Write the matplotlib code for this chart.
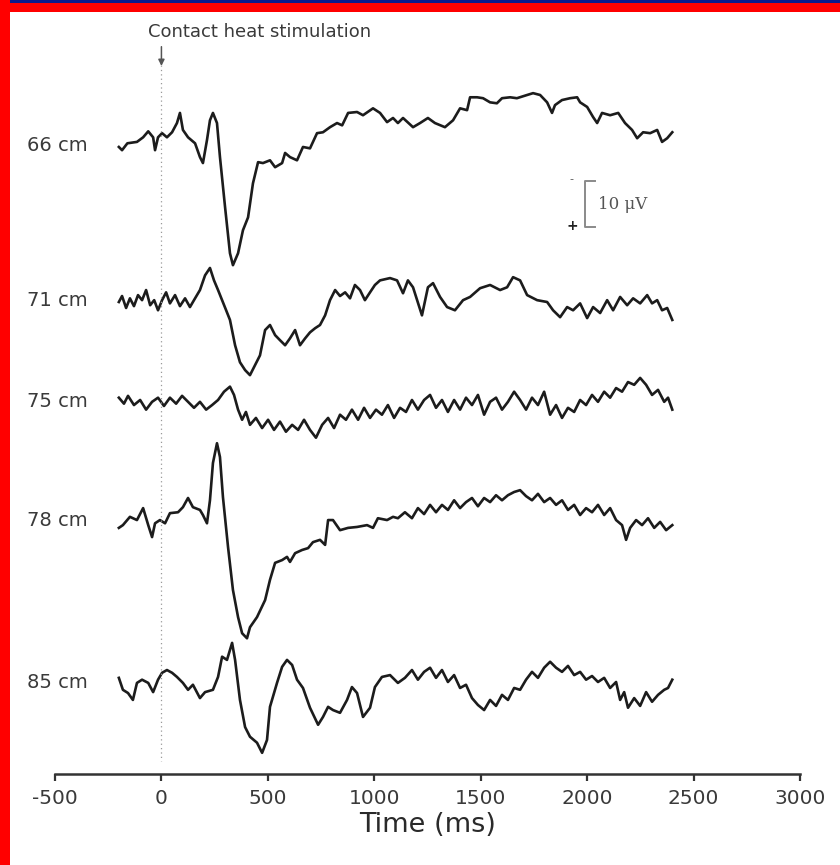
import matplotlib
matplotlib.use("Agg")
import matplotlib.pyplot as plt
from matplotlib.patches import Rectangle

plt.rcParams["axes.unicode_minus"] = False

# Evoked potentials after contact heat stimulation, one trace per recording distance.
# Times in ms, amplitudes in microvolts (negative up, as in the original figure).
LABELS = ["66 cm", "71 cm", "75 cm", "78 cm", "85 cm"]

T66 = [-200, -185, -160, -115, -86, -62, -39, -30, -16, 3, 26, 50, 73, 87, 101, 125, 158, 181, 195,
       214, 228, 242, 261, 275, 299, 322, 336, 360, 383, 407, 430, 454, 477, 510, 534, 567, 581, 604,
       637, 665, 698, 731, 759, 792, 825, 849, 877, 919, 947, 994, 1027, 1060, 1088, 1111, 1135, 1182,
       1215, 1252, 1285, 1332, 1370, 1403, 1436, 1450, 1483, 1511, 1544, 1576, 1600, 1638, 1670, 1718,
       1746, 1779, 1812, 1835, 1849, 1882, 1920, 1953, 1967, 2000, 2028, 2047, 2070, 2108, 2146, 2178,
       2211, 2235, 2263, 2296, 2329, 2352, 2376, 2400]
V66 = [0.4, 1.1, -0.4, -0.7, -1.7, -3.0, -1.7, 1.1, -1.7, -2.6, -1.7, -2.8, -4.8, -7.0, -3.3, -1.7,
       -0.4, 2.6, 3.9, -1.1, -5.4, -7.0, -4.8, 2.6, 13.5, 23.5, 26.1, 23.5, 18.5, 15.7, 8.3, 3.7, 3.9,
       3.3, 4.8, 3.9, 1.7, 2.6, 3.3, 0.4, 0.7, -2.6, -2.8, -3.9, -4.8, -4.3, -7.0, -7.2, -6.5, -8.0,
       -7.0, -5.0, -5.9, -4.8, -5.9, -3.9, -4.8, -5.9, -4.8, -3.9, -5.4, -8.0, -7.6, -10.4, -10.4,
       -10.2, -9.3, -9.1, -10.2, -10.4, -10.2, -10.9, -11.3, -10.9, -9.3, -7.0, -8.7, -9.8, -10.2,
       -10.4, -9.3, -8.3, -6.1, -4.8, -7.0, -6.5, -7.0, -4.8, -3.3, -1.5, -2.8, -2.6, -3.3, -0.7,
       -1.5, -2.8]

T71 = [-200, -185, -166, -148, -129, -110, -91, -72, -53, -34, -16, 3, 22, 40, 64, 87, 111, 134, 158,
       181, 205, 228, 247, 266, 285, 304, 322, 346, 369, 393, 416, 440, 463, 487, 510, 534, 557, 581,
       604, 628, 651, 675, 698, 722, 745, 769, 792, 816, 839, 863, 886, 909, 933, 956, 980, 1003, 1027,
       1074, 1107, 1135, 1158, 1182, 1224, 1252, 1276, 1309, 1342, 1379, 1417, 1450, 1497, 1544, 1591,
       1624, 1652, 1685, 1718, 1765, 1812, 1840, 1873, 1906, 1934, 1967, 2000, 2028, 2061, 2094, 2122,
       2155, 2188, 2216, 2249, 2282, 2305, 2329, 2352, 2376, 2400]
V71 = [0.4, -0.9, 1.7, -0.4, 1.3, -1.1, 0.0, -2.2, 1.1, 0.0, 2.2, 0.0, -1.7, 0.7, -1.1, 1.3, -0.4,
       1.5, -0.4, -2.2, -5.4, -7.0, -4.3, -2.2, 0.0, 2.2, 4.3, 9.8, 13.5, 15.2, 16.3, 14.1, 12.0, 6.5,
       5.4, 7.6, 8.7, 9.8, 8.3, 6.5, 9.8, 8.3, 7.0, 6.1, 5.4, 3.3, 0.0, -2.2, -0.9, -1.7, -0.4, -3.3,
       -2.2, 0.0, -1.7, -3.3, -4.3, -4.8, -4.3, -1.5, -4.3, -2.8, 3.3, -2.8, -3.7, -0.7, 1.5, 2.2, 0.0,
       -0.7, -2.6, -3.3, -2.2, -2.8, -5.0, -4.3, -1.1, 0.0, 0.4, 2.2, 3.7, 1.5, 2.2, 0.7, 3.9, 1.5, 2.8,
       0.0, 2.2, -0.7, 1.1, -0.4, 0.7, -1.1, 0.7, 0.0, 2.2, 1.7, 4.3]

T75 = [-200, -176, -157, -129, -100, -72, -44, -16, 12, 40, 69, 97, 125, 153, 181, 210, 238, 266, 294,
       322, 341, 360, 379, 397, 416, 444, 473, 501, 529, 557, 585, 614, 642, 670, 698, 726, 755, 783,
       811, 839, 867, 895, 924, 952, 980, 1008, 1036, 1064, 1093, 1121, 1149, 1177, 1205, 1234, 1262,
       1290, 1318, 1346, 1375, 1403, 1431, 1459, 1487, 1516, 1544, 1572, 1600, 1628, 1657, 1685, 1713,
       1741, 1769, 1798, 1826, 1854, 1882, 1910, 1939, 1967, 1995, 2023, 2051, 2080, 2108, 2136, 2164,
       2192, 2221, 2249, 2277, 2305, 2333, 2362, 2380, 2400]
V75 = [-0.9, 0.4, -1.3, 0.7, -0.4, 1.7, 0.0, -0.9, 0.9, -0.9, 0.4, -1.3, 0.0, 1.3, 0.0, 1.7, 0.7,
       -0.4, -2.2, -3.3, -1.5, 1.7, 3.9, 2.2, 5.0, 3.5, 5.7, 3.9, 6.1, 4.3, 6.5, 5.0, 6.1, 3.9, 6.1,
       7.8, 5.0, 3.5, 5.7, 2.8, 3.9, 1.7, 3.9, 1.3, 3.5, 1.7, 2.8, 0.7, 3.5, 1.3, 2.2, -0.4, 1.7, -0.4,
       -1.5, 1.3, -0.4, 2.2, -0.4, 1.7, -0.9, 0.7, -1.5, 2.8, 0.0, -0.9, 1.7, 0.0, -2.2, -0.4, 1.7,
       -0.9, 0.7, -2.2, 2.8, 0.7, 3.5, 1.3, 2.2, -0.4, 0.7, -1.5, 0.0, -2.2, -0.9, -3.0, -2.2, -4.3,
       -3.7, -5.2, -3.7, -1.5, -2.6, 0.0, -0.9, 1.7]

T78 = [-200, -181, -148, -115, -86, -62, -44, -30, -7, 17, 40, 78, 101, 125, 148, 181, 195, 214, 228,
       242, 261, 275, 289, 313, 336, 360, 379, 402, 416, 449, 487, 510, 534, 567, 590, 604, 628, 661,
       689, 712, 745, 769, 783, 806, 839, 877, 919, 966, 994, 1017, 1060, 1088, 1111, 1144, 1177, 1205,
       1234, 1262, 1290, 1318, 1346, 1375, 1403, 1431, 1459, 1487, 1516, 1544, 1572, 1600, 1628, 1657,
       1685, 1713, 1741, 1769, 1798, 1826, 1854, 1882, 1910, 1939, 1967, 1995, 2023, 2051, 2080, 2108,
       2136, 2164, 2183, 2202, 2230, 2258, 2286, 2315, 2343, 2371, 2400]
V78 = [1.7, 1.1, -0.7, 0.0, -2.6, 1.1, 3.7, 0.7, 0.0, 0.7, -1.5, -1.7, -2.8, -4.8, -2.8, -2.2, -1.1,
       0.7, -4.3, -12.4, -16.7, -13.7, -5.0, 5.9, 15.2, 21.1, 24.6, 25.7, 23.3, 21.1, 17.4, 13.0, 9.3,
       8.7, 8.0, 9.1, 7.2, 6.5, 6.1, 4.8, 4.3, 5.4, 0.0, 0.0, 2.2, 1.7, 1.5, 1.1, 1.7, -0.4, 0.0, -0.7,
       -0.4, -1.7, -0.4, -2.6, -1.3, -3.3, -1.7, -3.3, -2.2, -4.3, -2.6, -3.9, -4.8, -3.0, -4.8, -3.9,
       -5.4, -4.3, -5.4, -6.1, -6.5, -5.2, -4.3, -5.7, -3.9, -4.8, -3.3, -4.3, -2.2, -3.3, -1.1, -2.6,
       -1.7, -3.3, -1.1, -2.6, 0.0, 1.1, 4.3, 1.7, 0.0, 1.1, -0.4, 1.7, 0.4, 2.2, 1.1]

T85 = [-200, -181, -157, -134, -115, -91, -62, -39, -16, 3, 26, 50, 73, 101, 125, 148, 181, 205, 242,
       266, 285, 308, 332, 346, 369, 393, 416, 449, 473, 496, 510, 543, 567, 590, 614, 637, 665, 698,
       736, 759, 783, 806, 839, 872, 895, 919, 947, 980, 1003, 1036, 1074, 1111, 1144, 1177, 1205,
       1234, 1262, 1290, 1318, 1346, 1375, 1403, 1431, 1459, 1487, 1516, 1544, 1572, 1600, 1628, 1657,
       1685, 1713, 1741, 1769, 1798, 1826, 1854, 1882, 1910, 1939, 1967, 1995, 2023, 2051, 2080, 2108,
       2136, 2155, 2174, 2192, 2221, 2249, 2277, 2305, 2333, 2362, 2380, 2400]
V85 = [-1.1, 1.5, 2.2, 3.7, 0.0, -0.7, 0.0, 2.0, -0.7, -2.2, -2.8, -2.2, -1.3, 0.0, 1.5, 0.4, 3.3,
       2.0, 1.5, -1.3, -5.7, -5.0, -8.7, -5.0, 3.7, 9.6, 11.7, 13.0, 15.2, 12.4, 5.2, 0.0, -3.5, -5.0,
       -3.9, -0.7, 1.1, 5.4, 9.1, 7.4, 5.2, 5.9, 6.5, 3.7, 0.9, 2.2, 7.4, 5.4, 0.9, -1.3, -1.7, 0.0,
       -1.1, -2.8, -0.7, -2.4, -3.3, -1.1, -2.8, -0.2, -1.7, 1.1, 0.4, 3.3, 4.8, 5.9, 3.7, 5.0, 2.6,
       3.7, 1.1, 1.5, -0.7, -2.4, -1.1, -3.3, -4.6, -3.3, -2.4, -3.7, -1.7, -2.4, -0.7, -1.5, -0.2,
       -1.1, 1.1, -0.2, 3.7, 2.0, 5.4, 3.3, 5.0, 2.0, 4.1, 2.6, 1.5, 1.1, -0.7]

TIMES = [T66, T71, T75, T78, T85]
VALUES = [V66, V71, V75, V78, V85]

# vertical position of each trace's baseline (uV below the top of the panel)
OFFSETS = [27.2, 60.9, 83.0, 108.7, 144.1]

XTICKS = [-500, 0, 500, 1000, 1500, 2000, 2500, 3000]

TRACE = "#1c1c1c"
TEXT = "#3a3a3a"

fig = plt.figure(figsize=(8.4, 8.65), dpi=100)
fig.patch.set_facecolor("white")
ax = fig.add_axes([55 / 840, 91 / 865, 745 / 840, 754 / 865])
ax.set_xlim(-500, 3000)
ax.set_ylim(163.9, 0)

for t, v, off, label in zip(TIMES, VALUES, OFFSETS, LABELS):
    ax.plot(t, [off + a for a in v], color=TRACE, linewidth=1.9, solid_joinstyle="round")
    ax.text(-632, off, label, ha="left", va="center", fontsize=14, color=TEXT,
            family="DejaVu Sans")

# stimulus onset
ax.plot([0, 0], [9.8, 161], color="#9a9a9a", linewidth=0.9, linestyle=(0, (1, 2.5)))
ax.annotate("", xy=(0, 10.6), xytext=(0, 5.2),
            arrowprops=dict(arrowstyle="-|>", color="#555555", lw=1.1, mutation_scale=9))
ax.text(-63, 2.6, "Contact heat stimulation", ha="left", va="center", fontsize=13,
        color=TEXT, family="DejaVu Sans")

# 10 uV scale bar
ax.plot([2036, 1990, 1990, 2036], [35, 35, 45, 45], color="#8a8a8a", linewidth=1.4)
ax.text(1926, 34.6, "-", ha="center", va="center", fontsize=8, color="#555555")
ax.text(1928, 44.8, "+", ha="center", va="center", fontsize=10, color="#222222",
        fontweight="bold")
ax.text(2052, 40, "10 \u03bcV", ha="left", va="center", fontsize=12, color="#555555",
        family="DejaVu Serif")

ax.set_xticks(XTICKS)
ax.set_yticks([])
ax.tick_params(axis="x", direction="out", length=5, width=1.6, color="#333333",
               labelsize=14.5, labelcolor=TEXT, pad=6)
for lab in ax.get_xticklabels():
    lab.set_family("DejaVu Sans")
for side in ["top", "right", "left"]:
    ax.spines[side].set_visible(False)
ax.spines["bottom"].set_color("#333333")
ax.spines["bottom"].set_linewidth(1.8)
ax.set_xlabel("Time (ms)", fontsize=19.5, color="#2a2a2a", labelpad=3, family="DejaVu Sans")

# slide frame: navy + red strip on top, red strip on the left
fig.add_artist(Rectangle((0, 1 - 12 / 865), 1, 12 / 865, transform=fig.transFigure,
                         facecolor="#ff0000", edgecolor="none"))
fig.add_artist(Rectangle((0, 1 - 3 / 865), 1, 3 / 865, transform=fig.transFigure,
                         facecolor="#0a1a8c", edgecolor="none"))
fig.add_artist(Rectangle((0, 0), 10 / 840, 1, transform=fig.transFigure,
                         facecolor="#ff0000", edgecolor="none"))

fig.savefig("out.png", dpi=100, facecolor="white")
